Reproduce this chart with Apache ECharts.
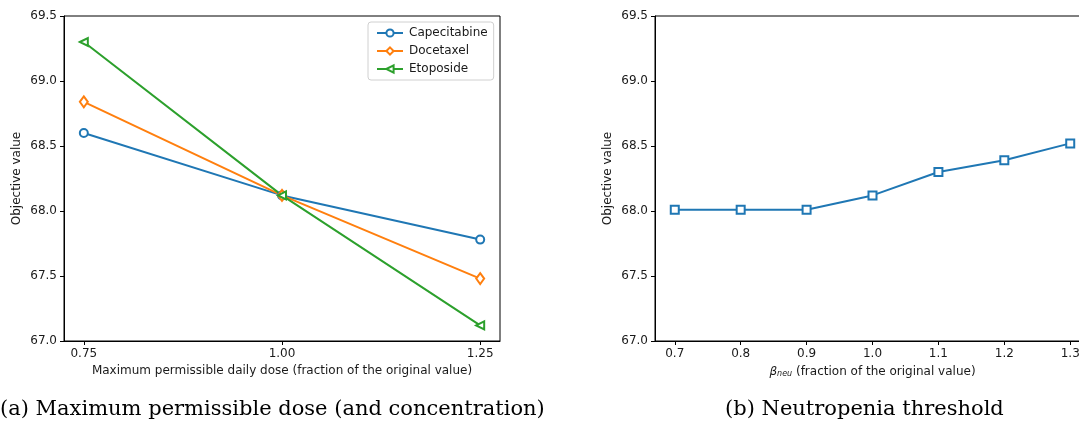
<!DOCTYPE html>
<html>
<head>
<meta charset="utf-8">
<script src="https://cdn.jsdelivr.net/npm/echarts@6/dist/echarts.min.js"></script>
<style>
  html, body { margin: 0; padding: 0; background: #fff; overflow: hidden; }
  #chart { width: 1090px; height: 421px; }
</style>
</head>
<body>
<div id="chart"></div>
<script>
// left panel: dose fraction
const doseX = [0.75, 1.0, 1.25];
const capecitabine = [68.6, 68.12, 67.78];
const docetaxel = [68.84, 68.12, 67.48];
const etoposide = [69.3, 68.12, 67.12];

// right panel: neutropenia threshold
const betaX = [0.7, 0.8, 0.9, 1.0, 1.1, 1.2, 1.3];
const neutropenia = [68.01, 68.01, 68.01, 68.12, 68.3, 68.39, 68.52];

const yTicks = [67.0, 67.5, 68.0, 68.5, 69.0, 69.5];

const BLUE = "#1f77b4";
const ORANGE = "#ff7f0e";
const GREEN = "#2ca02c";
const TXT = "#1a1a1a";
const FONT = "DejaVu Sans";

const pairs = (xs, ys) => xs.map((x, i) => [x, ys[i]]);

const chart = echarts.init(document.getElementById("chart"), null, { renderer: "canvas" });

function xAxisFor(gridIndex, min, max, ticks, digits, name) {
  return {
    type: "value",
    gridIndex,
    min,
    max,
    axisLine: { show: true, onZero: false, lineStyle: { color: "#000", width: 1 } },
    axisTick: { show: true, inside: false, length: 4, customValues: ticks, lineStyle: { color: "#000" } },
    axisLabel: {
      customValues: ticks,
      margin: 7,
      color: TXT,
      fontFamily: FONT,
      fontSize: 12,
      formatter: (v) => v.toFixed(digits),
    },
    splitLine: { show: false },
    name,
    nameLocation: "middle",
    nameGap: 24,
    nameTextStyle: {
      color: TXT,
      fontFamily: FONT,
      fontSize: 12,
      rich: {
        b: { fontFamily: FONT, fontSize: 12, fontStyle: "italic", color: TXT },
        s: { fontFamily: FONT, fontSize: 8, fontStyle: "italic", color: TXT, padding: [5, 0, 0, 0] },
        t: { fontFamily: FONT, fontSize: 12, color: TXT },
      },
    },
  };
}

function yAxisFor(gridIndex) {
  return {
    type: "value",
    gridIndex,
    min: 67.0,
    max: 69.5,
    axisLine: { show: true, onZero: false, lineStyle: { color: "#000", width: 1 } },
    axisTick: { show: true, inside: false, length: 4, customValues: yTicks, lineStyle: { color: "#000" } },
    axisLabel: {
      customValues: yTicks,
      margin: 7,
      color: TXT,
      fontFamily: FONT,
      fontSize: 12,
      formatter: (v) => v.toFixed(1),
    },
    splitLine: { show: false },
    name: "Objective value",
    nameLocation: "middle",
    nameGap: 41,
    nameTextStyle: { color: TXT, fontFamily: FONT, fontSize: 12 },
  };
}

function lineSeries(name, data, color, symbol, xi, extra) {
  return Object.assign({
    name,
    type: "line",
    xAxisIndex: xi,
    yAxisIndex: xi,
    data,
    symbol,
    symbolSize: 8,
    showSymbol: true,
    animation: false,
    lineStyle: { color, width: 2 },
    itemStyle: { color, borderColor: color, borderWidth: 1 },
  }, extra || {});
}

const option = {
  backgroundColor: "#fff",
  animation: false,
  grid: [
    { left: 64, right: 590, top: 16, bottom: 80, show: true, borderColor: "#000", borderWidth: 1, backgroundColor: "transparent" },
    { left: 655, right: 0, top: 16, bottom: 80, show: true, borderColor: "#000", borderWidth: 1, backgroundColor: "transparent" },
  ],
  xAxis: [
    xAxisFor(0, 0.725, 1.275, doseX, 2, "Maximum permissible daily dose (fraction of the original value)"),
    xAxisFor(1, 0.67, 1.33, betaX, 1, "{b|β}{s|neu}{t| (fraction of the original value)}"),
  ],
  yAxis: [yAxisFor(0), yAxisFor(1)],
  legend: {
    left: 368,
    top: 22,
    orient: "vertical",
    data: ["Capecitabine", "Docetaxel", "Etoposide"],
    itemWidth: 26,
    itemHeight: 9,
    itemGap: 6,
    padding: [5, 6, 5, 8],
    borderColor: "#d0d0d0",
    borderWidth: 1,
    borderRadius: 3,
    backgroundColor: "rgba(255,255,255,0.8)",
    textStyle: { color: TXT, fontFamily: FONT, fontSize: 12, padding: [0, 0, 0, 1] },
  },
  series: [
    lineSeries("Capecitabine", pairs(doseX, capecitabine), BLUE, "emptyCircle", 0),
    lineSeries("Docetaxel", pairs(doseX, docetaxel), ORANGE, "emptyDiamond", 0, { symbolSize: [8, 11] }),
    lineSeries("Etoposide", pairs(doseX, etoposide), GREEN, "emptyTriangle", 0, { symbolRotate: 90 }),
    lineSeries("Neutropenia", pairs(betaX, neutropenia), BLUE, "emptyRect", 1, { symbolSize: 8 }),
  ],
  graphic: [
    {
      type: "text",
      left: 0,
      top: 399,
      style: { text: "(a) Maximum permissible dose (and concentration)", font: "21px 'DejaVu Serif'", fill: "#000" },
    },
    {
      type: "text",
      left: 725,
      top: 399,
      style: { text: "(b) Neutropenia threshold", font: "21px 'DejaVu Serif'", fill: "#000" },
    },
  ],
};

chart.setOption(option);
</script>
</body>
</html>
